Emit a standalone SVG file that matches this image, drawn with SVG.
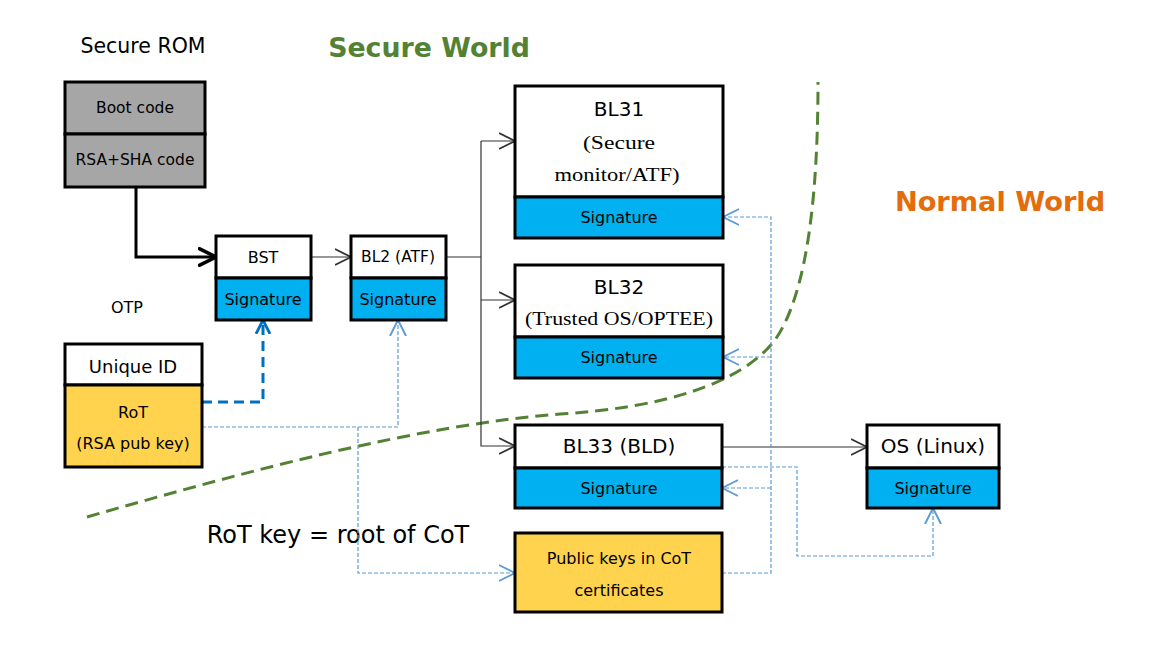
<svg xmlns="http://www.w3.org/2000/svg" width="1175" height="648" viewBox="0 0 1175 648">
<defs>
<style>
text{font-family:"DejaVu Sans","Verdana",sans-serif;fill:#000;text-anchor:middle;dominant-baseline:central}
.serif{font-family:"Liberation Serif","Times New Roman",serif;font-size:19px}
.box{stroke:#000;stroke-width:3}
.w{fill:#fff}.g{fill:#A6A6A6}.b{fill:#00B0F0}.y{fill:#FFD34D}
.thin{fill:none;stroke:#333;stroke-width:1.2}
.dash{fill:none;stroke:#5B9BD5;stroke-width:1.2;stroke-dasharray:4 2}
</style>
<marker id="ak" viewBox="0 0 10 10" refX="10" refY="5" markerWidth="16" markerHeight="18" markerUnits="userSpaceOnUse" orient="auto"><path d="M0,0 L10,5 L0,10" fill="none" stroke="#333" stroke-width="1.2"/></marker>
<marker id="akb" viewBox="0 0 10 10" refX="10" refY="5" markerWidth="18" markerHeight="20" markerUnits="userSpaceOnUse" orient="auto"><path d="M0,0 L10,5 L0,10" fill="none" stroke="#000" stroke-width="2"/></marker>
<marker id="al" viewBox="0 0 10 10" refX="10" refY="5" markerWidth="16" markerHeight="18" markerUnits="userSpaceOnUse" orient="auto"><path d="M0,0 L10,5 L0,10" fill="none" stroke="#5B9BD5" stroke-width="1.2"/></marker>
<marker id="adb" viewBox="0 0 10 10" refX="10" refY="5" markerWidth="14" markerHeight="20" markerUnits="userSpaceOnUse" orient="auto"><path d="M0,0 L10,5 L0,10" fill="none" stroke="#0070C0" stroke-width="2"/></marker>
</defs>
<rect width="1175" height="648" fill="#fff"/>

<g id="labels">
<text x="143" y="46" font-size="20.5">Secure ROM</text>
<text x="429" y="47" font-size="26.8" font-weight="bold" style="fill:#548235">Secure World</text>
<text x="1000" y="201" font-size="27.2" font-weight="bold" style="fill:#E46C0A">Normal World</text>
<text x="127" y="307" font-size="16">OTP</text>
<text x="338" y="535" font-size="24">RoT key = root of CoT</text>
</g>

<path id="boundary" d="M87,517 C250,470 420,425 560,414 C660,408 740,385 775,340 C810,290 818,180 818,82" fill="none" stroke="#548235" stroke-width="3" stroke-dasharray="13 7"/>

<g id="connectors">
<path d="M136,187 V257 H216" fill="none" stroke="#000" stroke-width="3" marker-end="url(#akb)"/>
<path d="M311,257 H351" class="thin" marker-end="url(#ak)"/>
<path d="M446,257 H481" class="thin"/>
<path d="M481,141 V446 H515" class="thin" marker-end="url(#ak)"/>
<path d="M481,141 H515" class="thin" marker-end="url(#ak)"/>
<path d="M481,300 H515" class="thin" marker-end="url(#ak)"/>
<path d="M722,447 H867" class="thin" marker-end="url(#ak)"/>
<path d="M202,402 H263 V320" fill="none" stroke="#0070C0" stroke-width="3" stroke-dasharray="10 6" marker-end="url(#adb)"/>
<path d="M202,427 H398 V320" class="dash" marker-end="url(#al)"/>
<path d="M358,427 V573 H515" class="dash" marker-end="url(#al)"/>
<path d="M722,573 H771 V217 H723" class="dash" marker-end="url(#al)"/>
<path d="M771,357 H723" class="dash" marker-end="url(#al)"/>
<path d="M771,488 H722" class="dash" marker-end="url(#al)"/>
<path d="M722,467 H797 V556 H933 V508" class="dash" marker-end="url(#al)"/>
</g>

<g id="secure-rom">
<rect x="65" y="82" width="140" height="52" class="box g"/>
<rect x="65" y="134" width="140" height="53" class="box g"/>
<text x="135" y="108" font-size="15.5">Boot code</text>
<text x="135" y="160" font-size="15.5">RSA+SHA code</text>
</g>

<g id="bst">
<rect x="216" y="236" width="95" height="42" class="box w"/>
<rect x="216" y="278" width="95" height="42" class="box b"/>
<text x="263" y="257" font-size="16">BST</text>
<text x="263" y="299" font-size="16">Signature</text>
</g>

<g id="bl2">
<rect x="351" y="236" width="95" height="42" class="box w"/>
<rect x="351" y="278" width="95" height="42" class="box b"/>
<text x="398" y="257" font-size="15.5">BL2 (ATF)</text>
<text x="398" y="299" font-size="16">Signature</text>
</g>

<g id="unique-id">
<rect x="65" y="344" width="137" height="41" class="box w"/>
<rect x="65" y="385" width="137" height="82" class="box y"/>
<text x="133" y="366" font-size="18">Unique ID</text>
<text x="133" y="412" font-size="16">RoT</text>
<text x="133" y="443" font-size="16">(RSA pub key)</text>
</g>

<g id="bl31">
<rect x="515" y="86" width="208" height="111" class="box w"/>
<rect x="515" y="197" width="208" height="41" class="box b"/>
<text x="619" y="109" font-size="20">BL31</text>
<text x="619" y="142" class="serif" textLength="72" lengthAdjust="spacingAndGlyphs">(Secure</text>
<text x="617" y="174" class="serif" textLength="125" lengthAdjust="spacingAndGlyphs">monitor/ATF)</text>
<text x="619" y="217" font-size="16">Signature</text>
</g>

<g id="bl32">
<rect x="515" y="265" width="208" height="72" class="box w"/>
<rect x="515" y="337" width="208" height="41" class="box b"/>
<text x="619" y="287" font-size="20">BL32</text>
<text x="619" y="318" class="serif" textLength="188" lengthAdjust="spacingAndGlyphs">(Trusted OS/OPTEE)</text>
<text x="619" y="357" font-size="16">Signature</text>
</g>

<g id="bl33">
<rect x="515" y="425" width="207" height="43" class="box w"/>
<rect x="515" y="468" width="207" height="40" class="box b"/>
<text x="619" y="446" font-size="20">BL33 (BLD)</text>
<text x="619" y="488" font-size="16">Signature</text>
</g>

<g id="os">
<rect x="867" y="425" width="132" height="43" class="box w"/>
<rect x="867" y="468" width="132" height="40" class="box b"/>
<text x="933" y="446" font-size="20">OS (Linux)</text>
<text x="933" y="488" font-size="16">Signature</text>
</g>

<g id="public-keys">
<rect x="515" y="533" width="207" height="79" class="box y"/>
<text x="619" y="558" font-size="16">Public keys in CoT</text>
<text x="619" y="590" font-size="16">certificates</text>
</g>
</svg>
